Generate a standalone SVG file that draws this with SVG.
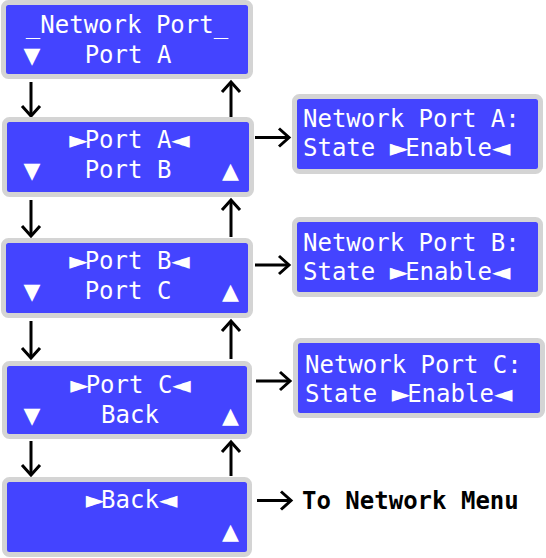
<svg xmlns="http://www.w3.org/2000/svg" width="546" height="558" viewBox="0 0 546 558">
<style>
.box{fill:#4444ff;stroke:#d4d4d4;stroke-width:5}
.t{font-family:"DejaVu Sans Mono","Liberation Mono",monospace;font-size:24px;fill:#ffffff}
.s{font-family:"DejaVu Sans",sans-serif;letter-spacing:-3px}
.tri{font-family:"DejaVu Sans",sans-serif;font-size:22px;fill:#ffffff;text-anchor:middle}
.c{text-anchor:middle}
.lbl{font-family:"DejaVu Sans Mono","Liberation Mono",monospace;font-size:24px;font-weight:bold;fill:#000000}
.ln{stroke:#000;stroke-width:3;fill:none;marker-end:url(#ah)}
</style>
<defs>
<marker id="ah" markerUnits="userSpaceOnUse" markerWidth="20" markerHeight="24" refX="0" refY="0" viewBox="-12 -12 16 24" orient="auto" overflow="visible">
<path d="M-10,-9 L0,0 L-10,9" fill="none" stroke="#000" stroke-width="3"/>
</marker>
</defs>
<g id="connectors">
<line class="ln" x1="31" y1="82" x2="31" y2="116"/>
<line class="ln" x1="231" y1="117" x2="231" y2="82"/>
<line class="ln" x1="31" y1="200" x2="31" y2="236"/>
<line class="ln" x1="231" y1="237" x2="231" y2="200"/>
<line class="ln" x1="31" y1="321" x2="31" y2="358"/>
<line class="ln" x1="231" y1="359" x2="231" y2="321"/>
<line class="ln" x1="31" y1="441" x2="31" y2="475"/>
<line class="ln" x1="231" y1="476" x2="231" y2="442"/>
<line class="ln" x1="255" y1="137.5" x2="289" y2="137.5"/>
<line class="ln" x1="255" y1="265" x2="289" y2="265"/>
<line class="ln" x1="256" y1="381" x2="290" y2="381"/>
<line class="ln" x1="257" y1="500.5" x2="291" y2="500.5"/>
</g>
<g id="node-network-port">
<rect class="box" x="3.5" y="2.5" width="247" height="74" rx="5"/>
<text class="t c" x="127" y="33">_Network Port_</text>
<text class="t c" x="128" y="63">Port A</text>
<text class="tri" x="32" y="63">▼</text>
</g>
<g id="node-port-a">
<rect class="box" x="4.5" y="119.5" width="247" height="75" rx="5"/>
<text class="t c" x="128" y="148"><tspan class="s">►</tspan>Port A<tspan class="s">◄</tspan></text>
<text class="t c" x="128" y="178">Port B</text>
<text class="tri" x="32" y="178">▼</text>
<text class="tri" x="230.5" y="178">▲</text>
</g>
<g id="node-port-b">
<rect class="box" x="3.5" y="240.5" width="247" height="75" rx="5"/>
<text class="t c" x="128" y="269"><tspan class="s">►</tspan>Port B<tspan class="s">◄</tspan></text>
<text class="t c" x="128" y="299">Port C</text>
<text class="tri" x="32" y="299">▼</text>
<text class="tri" x="230.5" y="299">▲</text>
</g>
<g id="node-port-c">
<rect class="box" x="4.5" y="363.5" width="245" height="73" rx="5"/>
<text class="t c" x="129" y="393"><tspan class="s">►</tspan>Port C<tspan class="s">◄</tspan></text>
<text class="t c" x="130" y="423">Back</text>
<text class="tri" x="32" y="423">▼</text>
<text class="tri" x="230.5" y="423">▲</text>
</g>
<g id="node-back">
<rect class="box" x="4.5" y="479.5" width="245" height="75" rx="5"/>
<text class="t c" x="130" y="508"><tspan class="s">►</tspan>Back<tspan class="s">◄</tspan></text>
<text class="tri" x="230.5" y="539">▲</text>
</g>
<g id="node-state-a">
<rect class="box" x="294.5" y="96.5" width="246" height="75" rx="5"/>
<text class="t" x="303" y="127">Network Port A:</text>
<text class="t" x="303" y="156">State <tspan class="s">►</tspan>Enable<tspan class="s">◄</tspan></text>
</g>
<g id="node-state-b">
<rect class="box" x="294.5" y="219.5" width="246" height="75" rx="5"/>
<text class="t" x="303" y="251">Network Port B:</text>
<text class="t" x="303" y="280">State <tspan class="s">►</tspan>Enable<tspan class="s">◄</tspan></text>
</g>
<g id="node-state-c">
<rect class="box" x="295.5" y="340.5" width="247" height="75" rx="5"/>
<text class="t" x="305" y="373">Network Port C:</text>
<text class="t" x="305" y="402">State <tspan class="s">►</tspan>Enable<tspan class="s">◄</tspan></text>
</g>
<g id="node-to-network-menu">
<text class="lbl" x="302" y="509">To Network Menu</text>
</g>
</svg>
